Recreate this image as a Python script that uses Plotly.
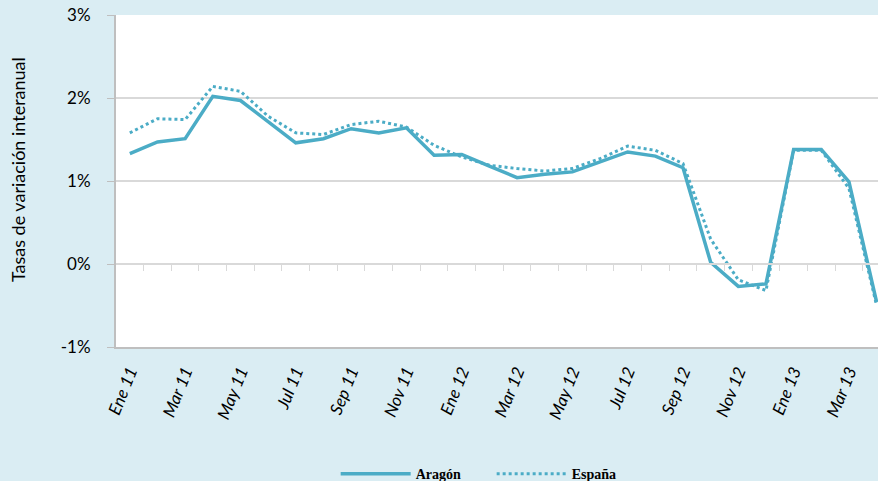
import plotly.graph_objects as go

months = ["Ene 11", "Feb 11", "Mar 11", "Abr 11", "May 11", "Jun 11", "Jul 11", "Ago 11",
          "Sep 11", "Oct 11", "Nov 11", "Dic 11", "Ene 12", "Feb 12", "Mar 12", "Abr 12",
          "May 12", "Jun 12", "Jul 12", "Ago 12", "Sep 12", "Oct 12", "Nov 12", "Dic 12",
          "Ene 13", "Feb 13", "Mar 13", "Abr 13"]
aragon = [1.33, 1.47, 1.51, 2.02, 1.97, 1.72, 1.46, 1.51, 1.63, 1.58, 1.64, 1.31, 1.32, 1.18,
          1.04, 1.08, 1.11, 1.23, 1.35, 1.30, 1.16, 0.02, -0.27, -0.24, 1.38, 1.38, 0.99, -0.46]
espana = [1.58, 1.75, 1.74, 2.14, 2.08, 1.78, 1.58, 1.56, 1.68, 1.72, 1.65, 1.43, 1.29, 1.19,
          1.15, 1.12, 1.15, 1.27, 1.42, 1.37, 1.21, 0.30, -0.19, -0.32, 1.37, 1.37, 0.91, -0.50]
ytick_vals = [-1, 0, 1, 2, 3]
y_title = "Tasas de variación interanual"

xpos = list(range(len(months)))
label_pos = xpos[::2]
label_txt = months[::2]
boundaries = [i + 0.5 for i in xpos[:-1]]

color = "#4bacc6"
grid = "#d9d9d9"
axis_gray = "#bfbfbf"
bg = "#daedf3"
xr = [-0.5, 27.05]

fig = go.Figure()
fig.add_trace(go.Scatter(x=xpos, y=aragon, mode="lines", name="Aragón",
                         line=dict(color=color, width=3.5), xaxis="x", yaxis="y"))
fig.add_trace(go.Scatter(x=xpos, y=espana, mode="lines", name="España",
                         line=dict(color=color, width=3, dash="dot"), xaxis="x2", yaxis="y"))

fig.update_layout(
    width=878, height=481,
    margin=dict(l=116, r=0, t=15, b=134, autoexpand=False),
    paper_bgcolor=bg, plot_bgcolor="white",
    font=dict(family="Lato", color="#000000"),
    xaxis=dict(range=xr, tickmode="array", tickvals=label_pos, ticktext=label_txt,
               tickangle=-68, tickfont=dict(family="Lato", size=17, style="italic"),
               showgrid=False, zeroline=False, showline=True, linecolor=axis_gray,
               linewidth=2, ticks="outside", ticklen=6, tickcolor="rgba(0,0,0,0)",
               automargin=False),
    xaxis2=dict(range=xr, overlaying="x", anchor="free", position=0.25,
                tickmode="array", tickvals=boundaries, showticklabels=False,
                ticks="outside", ticklen=6, tickcolor=grid, tickwidth=1,
                showline=True, linecolor=grid, linewidth=2, showgrid=False, zeroline=False),
    yaxis=dict(range=[-1, 3], tickmode="array", tickvals=ytick_vals,
               ticktext=[f"{v}%" for v in ytick_vals],
               tickfont=dict(family="Lato", size=17), showgrid=True, gridcolor=grid,
               gridwidth=2, zeroline=False, showline=True, linecolor=axis_gray,
               linewidth=2, ticks="outside", ticklen=7, tickcolor=axis_gray,
               ticklabelstandoff=13, automargin=False),
    annotations=[dict(text=y_title, xref="paper", yref="paper", x=-0.1286, y=0.533,
                      xanchor="center", yanchor="middle", textangle=-90, showarrow=False,
                      font=dict(family="Lato", size=18, color="#000000"))],
    showlegend=True,
    legend=dict(orientation="h", x=0.493, xanchor="center", y=-0.383, yanchor="middle",
                bgcolor="rgba(0,0,0,0)",
                font=dict(family="Liberation Serif", size=14, weight="bold"),
                itemwidth=70, entrywidth=71, entrywidthmode="pixels"),
)

fig.write_html("out.html", config={"displayModeBar": False},
               post_script="document.body.style.margin='0';")
